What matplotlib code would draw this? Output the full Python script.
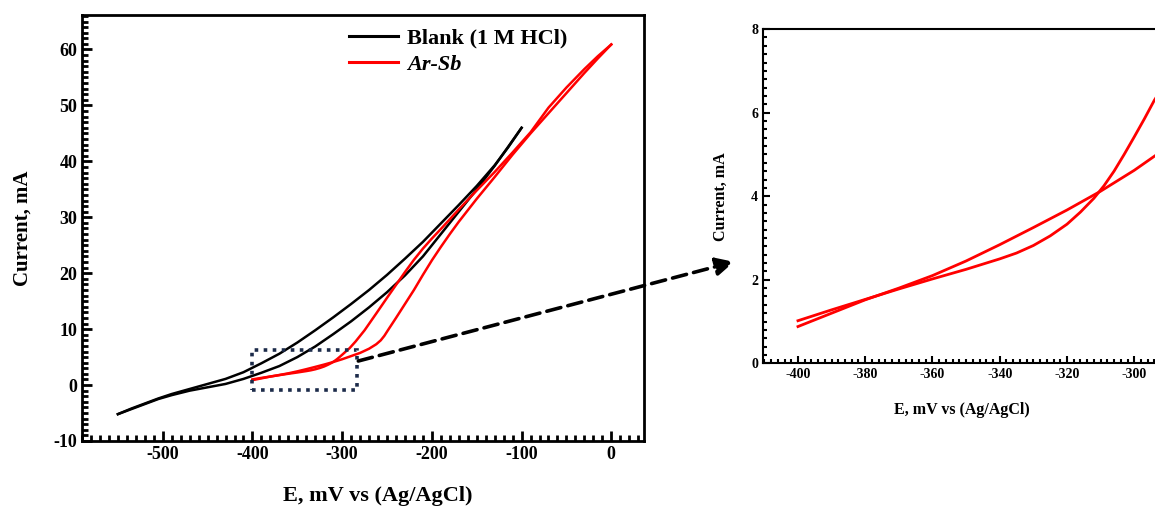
import numpy as np
import matplotlib
matplotlib.use("Agg")
import matplotlib.pyplot as plt
from matplotlib.patches import Rectangle, ConnectionPatch
from matplotlib.ticker import MultipleLocator

plt.rcParams['font.family'] = ['Liberation Serif', 'DejaVu Serif']
plt.rcParams['font.weight'] = 'bold'
plt.rcParams['axes.unicode_minus'] = False

# blank (1 M HCl), two branches of the sweep
blank_up_E = [-550, -535, -520, -505, -490, -470, -450, -430, -410, -390, -370, -350, -330, -310, -290, -270,
              -250, -230, -210, -190, -170, -150, -130, -115, -100]
blank_up_I = [-5.2, -4.2, -3.3, -2.4, -1.6, -0.7, 0.2, 1.1, 2.3, 3.9, 5.6, 7.6, 9.8, 12.1, 14.5, 17.0,
              19.7, 22.6, 25.6, 28.9, 32.2, 35.6, 39.3, 42.5, 46.0]
blank_dn_E = [-550, -535, -520, -505, -490, -470, -450, -430, -410, -390, -370, -350, -330, -310, -290, -270,
              -250, -230, -210, -190, -170, -150, -130, -115, -100]
blank_dn_I = [-5.2, -4.3, -3.4, -2.5, -1.8, -1.0, -0.4, 0.2, 1.1, 2.2, 3.4, 5.0, 6.9, 9.1, 11.4, 13.9,
              16.6, 19.6, 23.0, 27.0, 31.0, 35.0, 39.2, 42.6, 46.0]

# Ar-Sb, two branches
arsb_a_E = [-400, -390, -380, -370, -360, -350, -340, -335, -330, -325, -320, -316, -312, -309, -306, -303,
            -300, -297, -294, -292, -285, -275, -262, -250, -240, -230, -220, -210, -200, -190, -170, -150,
            -130, -110, -90, -70, -50, -30, -15, 0]
arsb_a_I = [1.02, 1.28, 1.53, 1.78, 2.02, 2.25, 2.5, 2.64, 2.82, 3.05, 3.33, 3.62, 3.95, 4.25, 4.6, 5.0,
            5.42, 5.85, 6.3, 6.55, 7.8, 9.8, 12.8, 15.6, 17.9, 20.2, 22.4, 24.4, 26.2, 27.9, 31.4, 34.8,
            38.1, 41.6, 45.2, 49.6, 53.2, 56.5, 58.8, 60.9]
arsb_b_E = [-400, -390, -380, -370, -360, -350, -340, -330, -320, -310, -300, -292, -280, -270, -262, -257,
            -253, -249, -240, -230, -220, -210, -200, -190, -180, -170, -150, -130, -110, -90, -70, -50,
            -30, -15, 0]
arsb_b_I = [0.88, 1.2, 1.52, 1.8, 2.1, 2.45, 2.84, 3.25, 3.67, 4.12, 4.62, 5.07, 5.75, 6.5, 7.3, 8.0,
            8.8, 9.8, 12.0, 14.5, 17.0, 19.7, 22.3, 24.7, 27.0, 29.2, 33.3, 37.2, 41.2, 45.0, 48.6, 52.2,
            55.8, 58.4, 60.9]

# zoomed window marked on the main plot
box_E = (-401, -284)
box_I = (-0.9, 6.3)

fig = plt.figure(figsize=(11.55, 5.11), dpi=100)
ax = fig.add_axes([0.071, 0.137, 0.487, 0.834])
ax2 = fig.add_axes([0.6606, 0.2890, 0.345, 0.654])

ax.plot(blank_up_E, blank_up_I, color='black', lw=1.8, label='Blank (1 M HCl)')
ax.plot(blank_dn_E, blank_dn_I, color='black', lw=1.8)
ax.plot(arsb_a_E, arsb_a_I, color='red', lw=1.8, label='Ar-Sb')
ax.plot(arsb_b_E, arsb_b_I, color='red', lw=1.8)

ax.set_xlim(-590, 37)
ax.set_ylim(-10, 66.2)
ax.xaxis.set_major_locator(MultipleLocator(100))
ax.xaxis.set_minor_locator(MultipleLocator(10))
ax.yaxis.set_major_locator(MultipleLocator(10))
ax.yaxis.set_minor_locator(MultipleLocator(1))
ax.tick_params(which='both', direction='in', top=False, right=False, labelsize=13)
ax.tick_params(which='major', length=7, width=2)
ax.tick_params(which='minor', length=4, width=2)
for s in ax.spines.values():
    s.set_linewidth(2)
ax.set_xlabel('E, mV vs (Ag/AgCl)', fontsize=16, fontweight='bold')
ax.xaxis.set_label_coords(0.526, -0.106)
ax.set_ylabel('Current, mA', fontsize=15, fontweight='bold', labelpad=15)

leg = ax.legend(loc='upper left', bbox_to_anchor=(0.44, 1.015), frameon=False, fontsize=16,
                handlelength=2.2, handletextpad=0.4, labelspacing=0.25)
for t in leg.get_texts():
    t.set_fontweight('bold')
leg.get_texts()[1].set_fontstyle('italic')
for l in leg.get_lines():
    l.set_linewidth(2.2)

rect = Rectangle((box_E[0], box_I[0]), box_E[1] - box_E[0], box_I[1] - box_I[0], fill=False,
                 edgecolor='#1c2b4a', lw=2.6, linestyle=(0, (1, 1.5)), zorder=5)
ax.add_patch(rect)

# inset
ax2.plot(arsb_a_E, arsb_a_I, color='red', lw=2)
ax2.plot(arsb_b_E, arsb_b_I, color='red', lw=2)
ax2.set_xlim(-410.4, -291.9)
ax2.set_ylim(0, 8)
ax2.xaxis.set_major_locator(MultipleLocator(20))
ax2.xaxis.set_minor_locator(MultipleLocator(2))
ax2.yaxis.set_major_locator(MultipleLocator(2))
ax2.yaxis.set_minor_locator(MultipleLocator(0.2))
ax2.tick_params(which='both', direction='in', top=False, right=False, labelsize=10)
ax2.tick_params(which='major', length=5, width=1.5)
ax2.tick_params(which='minor', length=3, width=1.5)
for s in ax2.spines.values():
    s.set_linewidth(1.5)
ax2.set_xlabel('E, mV vs (Ag/AgCl)', fontsize=11.5, fontweight='bold', labelpad=15)
ax2.set_ylabel('Current, mA', fontsize=11.5, fontweight='bold', labelpad=16)

# dashed arrow from the box to the inset
con = ConnectionPatch(xyA=(-282, 4.3), coordsA=ax.transData, xyB=(-419, 2.43), coordsB=ax2.transData,
                      arrowstyle='-|>,head_length=0.9,head_width=0.45', color='black', lw=2.6,
                      linestyle=(0, (4, 2)), mutation_scale=12, zorder=6)
fig.add_artist(con)

fig.savefig('out.png', dpi=100)
